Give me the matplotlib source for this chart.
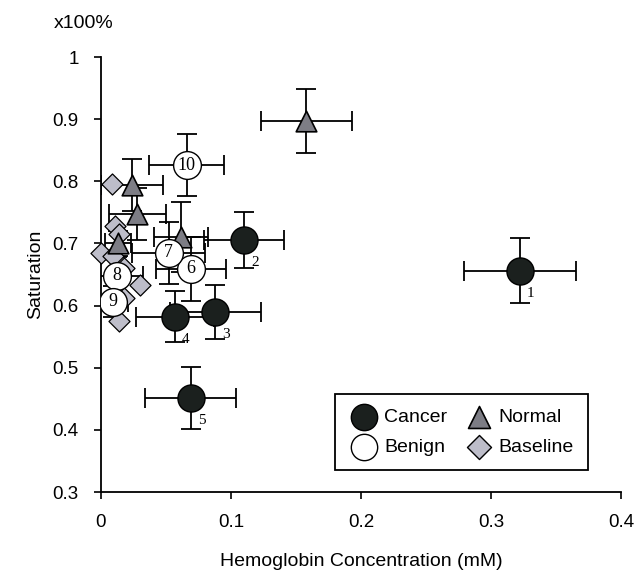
import numpy as np
import matplotlib.pyplot as plt

plt.rcParams['font.family'] = ['Liberation Sans', 'DejaVu Sans']

# cancer (numbered 1-5)
cancer_x = [0.322, 0.110, 0.088, 0.057, 0.069]
cancer_y = [0.656, 0.705, 0.590, 0.582, 0.451]
cancer_xerr = [0.043, 0.031, 0.035, 0.030, 0.035]
cancer_yerr = [0.052, 0.045, 0.043, 0.041, 0.050]
cancer_ids = ["1", "2", "3", "4", "5"]

# normal
normal_x = [0.158, 0.024, 0.028, 0.0615, 0.013]
normal_y = [0.897, 0.794, 0.747, 0.710, 0.700]
normal_xerr = [0.035, 0.024, 0.022, 0.021, 0.010]
normal_yerr = [0.052, 0.042, 0.042, 0.056, 0.020]

# benign (numbered 6-10)
benign_x = [0.069, 0.052, 0.012, 0.009, 0.066]
benign_y = [0.659, 0.685, 0.648, 0.606, 0.826]
benign_xerr = [0.027, 0.028, 0.020, 0.012, 0.029]
benign_yerr = [0.052, 0.050, 0.030, 0.025, 0.050]
benign_ids = ["6", "7", "8", "9", "10"]

# baseline
base_x = [0.0085, 0.011, 0.014, 0.000, 0.009, 0.018, 0.030, 0.018, 0.014]
base_y = [0.796, 0.728, 0.715, 0.685, 0.680, 0.660, 0.633, 0.612, 0.575]

fig = plt.figure(figsize=(6.43, 5.82), dpi=100)
ax = fig.add_axes([0.157, 0.1546, 0.809, 0.7474])

eb = dict(fmt="none", ecolor="black", elinewidth=1.3, capsize=7, capthick=1.3)

ax.scatter(base_x, base_y, marker="D", s=115, facecolor="#bdbdc9",
           edgecolor="black", linewidth=0.9, zorder=3, clip_on=False)

ax.errorbar(normal_x, normal_y, xerr=normal_xerr, yerr=normal_yerr, zorder=2, **eb)
ax.scatter(normal_x, normal_y, marker="^", s=220, facecolor="#7d7d85",
           edgecolor="black", linewidth=1.2, zorder=4)

ax.errorbar(cancer_x, cancer_y, xerr=cancer_xerr, yerr=cancer_yerr, zorder=2, **eb)
ax.scatter(cancer_x, cancer_y, marker="o", s=380, facecolor="#1b201e",
           edgecolor="black", linewidth=1.0, zorder=5)

ax.errorbar(benign_x, benign_y, xerr=benign_xerr, yerr=benign_yerr, zorder=2, **eb)
ax.scatter(benign_x, benign_y, marker="o", s=400, facecolor="white",
           edgecolor="black", linewidth=1.0, zorder=6)

for x, y, t in zip(cancer_x, cancer_y, cancer_ids):
    ax.annotate(t, (x, y), xytext=(5, -16), textcoords="offset points",
                family="Liberation Serif", fontsize=11, ha="left", va="center")
for x, y, t in zip(benign_x, benign_y, benign_ids):
    ax.text(x, y, t, family="Liberation Serif", fontsize=13,
            ha="center", va="center", zorder=7)

# legend proxies
h1 = ax.scatter([], [], marker="o", s=360, facecolor="#1b201e", edgecolor="black")
h2 = ax.scatter([], [], marker="o", s=360, facecolor="white", edgecolor="black")
h3 = ax.scatter([], [], marker="^", s=250, facecolor="#7d7d85", edgecolor="black", linewidth=1.2)
h4 = ax.scatter([], [], marker="D", s=150, facecolor="#bdbdc9", edgecolor="black")
leg = ax.legend([h1, h2, h3, h4], ["Cancer", "Benign", "Normal", "Baseline"],
                ncol=2, loc="lower right", bbox_to_anchor=(0.937, 0.05),
                borderaxespad=0, fontsize=14, fancybox=False, framealpha=1,
                edgecolor="black", handletextpad=0.25, columnspacing=0.9,
                labelspacing=0.6, borderpad=0.75, handlelength=1.5)
leg.get_frame().set_linewidth(1.3)

ax.set_xlim(0, 0.4)
ax.set_ylim(0.3, 1.0)
ax.set_xticks([0, 0.1, 0.2, 0.3, 0.4])
ax.set_xticklabels(["0", "0.1", "0.2", "0.3", "0.4"])
ax.set_yticks([0.3, 0.4, 0.5, 0.6, 0.7, 0.8, 0.9, 1.0])
ax.set_yticklabels(["0.3", "0.4", "0.5", "0.6", "0.7", "0.8", "0.9", "1"])
ax.tick_params(axis="both", direction="out", length=5, width=1.2, labelsize=13.5)
ax.tick_params(axis="x", pad=11)
ax.tick_params(axis="y", pad=11)
for s in ["top", "right"]:
    ax.spines[s].set_visible(False)
for s in ["left", "bottom"]:
    ax.spines[s].set_linewidth(1.3)

ax.set_xlabel("Hemoglobin Concentration (mM)", fontsize=14, labelpad=16)
ax.set_ylabel("Saturation", fontsize=14, labelpad=6)
fig.text(0.13, 0.96, "x100%", fontsize=14, ha="center", va="center")

fig.savefig("out.png", dpi=100)
